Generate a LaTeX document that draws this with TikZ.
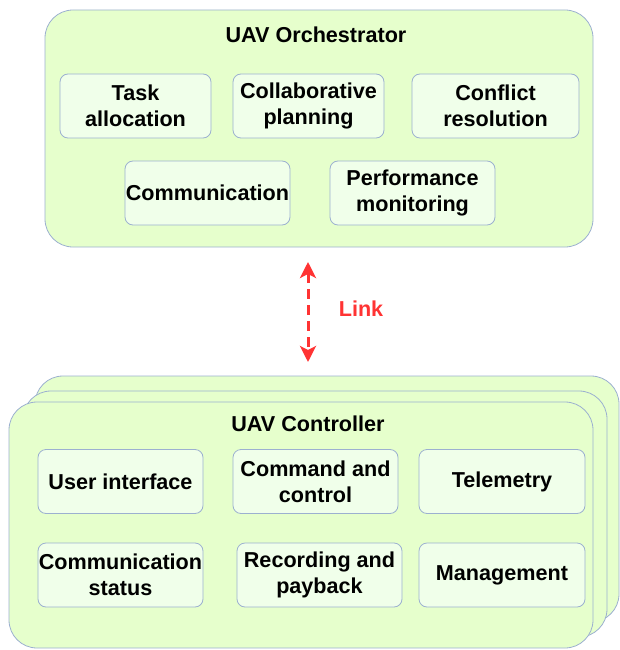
\documentclass[tikz,border=0pt]{standalone}
\usepackage{fontspec}
\setmainfont{Liberation Sans}
\usetikzlibrary{arrows.meta}
\definecolor{outerfill}{RGB}{230,255,204}
\definecolor{innerfill}{RGB}{240,255,234}
\definecolor{boxline}{RGB}{156,176,208}
\definecolor{linkred}{RGB}{255,51,51}
\tikzset{
  outerbox/.style={draw=boxline,fill=outerfill,line width=0.8pt,rounded corners=28pt},
  innerbox/.style={draw=boxline,fill=innerfill,line width=0.8pt,rounded corners=8pt,
    minimum height=64pt,inner sep=0pt,align=center,
    font=\bfseries\fontsize{21.6}{26}\selectfont},
  titletext/.style={font=\bfseries\fontsize{21.6}{26}\selectfont},
  linkarrow/.style={draw=linkred,line width=3pt,dash pattern=on 10pt off 6pt,
    {Stealth[length=16pt,width=16pt,inset=4pt]}-{Stealth[length=16pt,width=16pt,inset=4pt]}},
}
\begin{document}
\begin{tikzpicture}[x=1pt,y=-1pt]
    \useasboundingbox (0,0) rectangle (619,650);
    %% orchestrator
    \node[outerbox,minimum width=548pt,minimum height=237pt] (orch) at (319,128.5) {};
    \node[titletext] (orchtitle) at (316,35) {UAV Orchestrator};
    \node[innerbox,minimum width=151pt] (task) at (135.5,106) {Task\\allocation};
    \node[innerbox,minimum width=151pt] (collab) at (308.5,106) {Collaborative\\planning};
    \node[innerbox,minimum width=167pt] (conflict) at (495.5,106) {Conflict\\resolution};
    \node[innerbox,minimum width=165pt] (comm) at (207.5,193) {Communication};
    \node[innerbox,minimum width=165pt] (perf) at (412.5,193) {Performance\\monitoring};
    %% controller stack
    \foreach \dx/\dy in {26/-26,14/-11} \node[outerbox,minimum width=584pt,minimum height=246pt]
        at (301+\dx,525+\dy) {};
    \node[outerbox,minimum width=584pt,minimum height=246pt] (ctrl) at (301,525) {};
    \node[titletext] (ctrltitle) at (308,424) {UAV Controller};
    \node[innerbox,minimum width=165pt] (user) at (120.5,481.5) {User interface};
    \node[innerbox,minimum width=165pt] (cmd) at (315.5,481.5) {Command and\\control};
    \node[innerbox,minimum width=166pt] (tele) at (502,481.5) {Telemetry};
    \node[innerbox,minimum width=165pt] (status) at (120.5,575) {Communication\\status};
    \node[innerbox,minimum width=165pt] (rec) at (319.5,575) {Recording and\\payback};
    \node[innerbox,minimum width=166pt] (mgmt) at (502,575) {Management};
    %% link
    \coordinate (linktop) at (308,262);
    \coordinate (linkbot) at (308,362);
    \draw[linkarrow] (linktop) -- (linkbot) node[pos=0.47,right=26pt,text=linkred,titletext] {Link};
\end{tikzpicture}
\end{document}
